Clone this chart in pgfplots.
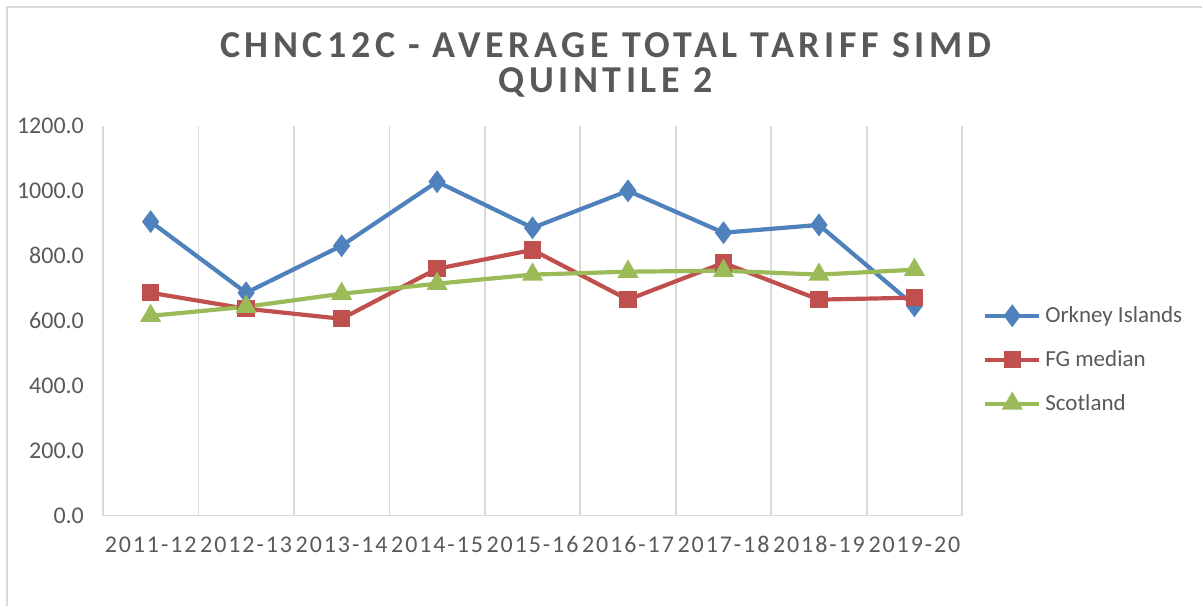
\documentclass[border=0pt]{standalone}
\usepackage{pgfplots}
\pgfplotsset{compat=1.18}
\usepackage{fontspec}
\setmainfont{Carlito}
\newfontfamily\titlefont[LetterSpace=12]{Carlito}
\newfontfamily\tickfont[LetterSpace=8]{Carlito}
\definecolor{cblue}{HTML}{4F81BD}
\definecolor{cred}{HTML}{C0504D}
\definecolor{cgreen}{HTML}{9BBB59}
\definecolor{ctext}{HTML}{595959}
\definecolor{cgrid}{HTML}{D9D9D9}
\begin{document}
\begin{tikzpicture}[x=0.5pt,y=0.5pt]
\path (0,0) rectangle (1203,607);
\draw[cgrid,line width=1pt] (7,0) -- (7,600) -- (1203,600);
\node[text=ctext,font=\titlefont\bfseries\fontsize{19}{18}\selectfont,align=center] at (606,542) {CHNC12C - AVERAGE TOTAL TARIFF SIMD\\QUINTILE 2};
\begin{axis}[
  at={(51.5pt,45.5pt)}, anchor=south west,
  scale only axis, width=430pt, height=195pt,
  xmin=-0.5, xmax=8.5, ymin=0, ymax=1200,
  xtick={0,...,8},
  xticklabels={2011-12,2012-13,2013-14,2014-15,2015-16,2016-17,2017-18,2018-19,2019-20},
  minor xtick={-0.5,0.5,...,8.5},
  xminorgrids, minor grid style={cgrid,line width=0.8pt},
  major tick length=0pt, minor tick length=0pt,
  ytick={0,200,...,1200},
  yticklabel={\pgfmathprintnumber[fixed,fixed zerofill,precision=1,1000 sep={}]{\tick}},
  /pgf/number format/assume math mode=true,
  ticklabel style={text=ctext,font=\fontsize{12}{14}\selectfont},
  xticklabel style={font=\tickfont\fontsize{12}{14}\selectfont, yshift=-7pt},
  yticklabel style={xshift=-6pt},
  axis x line*=bottom, axis y line*=left,
  x axis line style={cgrid,line width=0.8pt,-},
  y axis line style={draw=none},
  clip=false,
  legend style={at={(1.017,0.40)}, anchor=west, draw=none, fill=none,
    font=\fontsize{11.5}{14}\selectfont, text=ctext, row sep=8.5pt,
    /tikz/every even column/.append style={column sep=0pt}},
  legend cell align=left,
  legend image code/.code={
    \draw[#1,mark repeat=2,mark phase=2] plot coordinates {(0pt,0pt) (13.5pt,0pt) (27pt,0pt)};
  },
]
\addplot[cblue, line width=2.1pt, mark=diamond*, mark size=4pt, mark options={solid}] coordinates {
(0,905) (1,686) (2,831) (3,1028) (4,886) (5,1000) (6,871) (7,895) (8,646)};
\addlegendentry{Orkney Islands}
\addplot[cred, line width=2.1pt, mark=square*, mark size=3.3pt, mark options={solid}] coordinates {
(0,686) (1,637) (2,606) (3,760) (4,818) (5,665) (6,778) (7,665) (8,671)};
\addlegendentry{FG median}
\addplot[cgreen, line width=2.1pt, mark=triangle*, mark size=4pt, mark options={solid}] coordinates {
(0,615) (1,643) (2,683) (3,714) (4,742) (5,751) (6,754) (7,742) (8,757)};
\addlegendentry{Scotland}
\end{axis}
\end{tikzpicture}
\end{document}
